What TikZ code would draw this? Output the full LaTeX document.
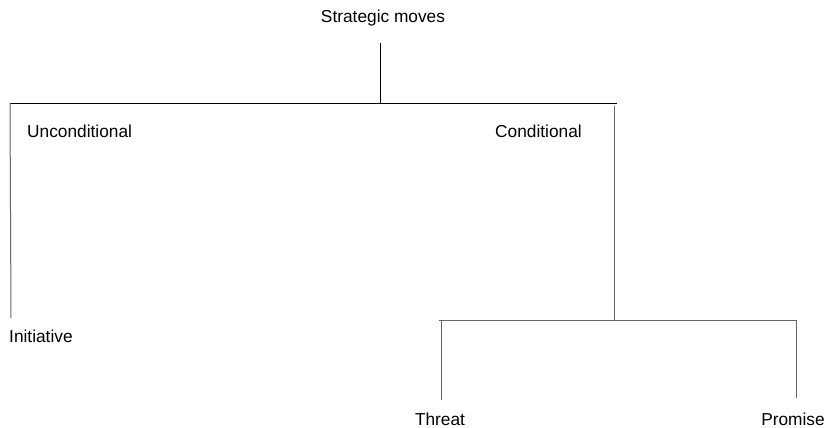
\documentclass[tikz,border=0pt]{standalone}
\usepackage{fontspec}
\setmainfont{Liberation Sans}
\usepackage{tikz}

\begin{document}
\begin{tikzpicture}[x=1pt, y=-1pt, txt/.style = {inner sep=0pt, font=\fontsize{17.3}{20}\selectfont},
                    branch/.style = {line width=1pt}, twig/.style = {line width=1pt, black!60}]
    \useasboundingbox (0,0) rectangle (827,428);
    \node[txt, anchor=base] (moves) at (383,23) {Strategic moves};
    \node[txt, anchor=base west] (uncond) at (27,137) {Unconditional};
    \node[txt, anchor=base west] (cond) at (495,137) {Conditional};
    \node[txt, anchor=base west] (init) at (9,342) {Initiative};
    \node[txt, anchor=base] (threat) at (440,425) {Threat};
    \node[txt, anchor=base] (promise) at (793,425) {Promise};
    \coordinate (stem) at (380,43);
    \coordinate (split) at (380,103);
    \coordinate (lt) at (10,103);
    \coordinate (rt) at (617,103);
    \coordinate (leftend) at (11,318);
    \coordinate (rtop) at (614,106);
    \coordinate (cdrop) at (614,320);
    \coordinate (bl) at (439,320);
    \coordinate (br) at (796,320);
    \coordinate (threatend) at (441,400);
    \coordinate (promend) at (796,398);
    \draw[branch] (stem) -- (split);
    \draw[branch] (lt) -- (rt);
    \draw[twig] (lt) -- (leftend);
    \draw[twig] (rtop) -- (cdrop);
    \draw[twig] (bl) -- (br);
    \draw[twig] (bl -| threatend) -- (threatend);
    \draw[twig] (br) -- (promend);
\end{tikzpicture}
\end{document}
